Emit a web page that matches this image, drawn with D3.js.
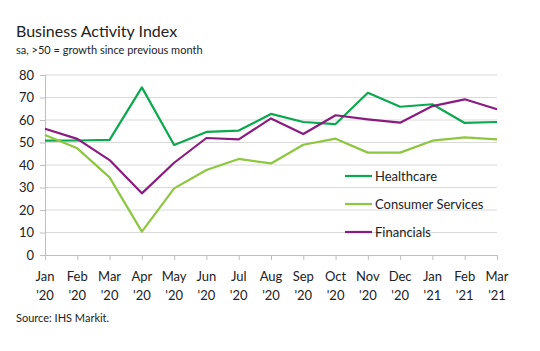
<!DOCTYPE html>
<html>
<head>
<meta charset="utf-8">
<script src="https://cdn.jsdelivr.net/npm/d3@7"></script>
<style>
  html, body { margin: 0; padding: 0; background: #fff; }
  svg { display: block; font-family: Lato, "Noto Sans", sans-serif; }
</style>
</head>
<body>
<div id="chart"></div>
<script>
const months = ["Jan", "Feb", "Mar", "Apr", "May", "Jun", "Jul", "Aug", "Sep", "Oct", "Nov", "Dec", "Jan", "Feb", "Mar"];
const years = ["'20", "'20", "'20", "'20", "'20", "'20", "'20", "'20", "'20", "'20", "'20", "'20", "'21", "'21", "'21"];
const healthcare = [50.8, 50.9, 51.2, 74.5, 48.9, 54.7, 55.3, 62.7, 59.1, 58.2, 72.1, 65.9, 67.0, 58.7, 59.1];
const consumerServices = [53.3, 47.4, 34.5, 10.4, 29.6, 37.8, 42.7, 40.7, 49.0, 51.7, 45.5, 45.5, 50.8, 52.3, 51.4];
const financials = [56.1, 51.6, 42.2, 27.4, 41.0, 52.0, 51.4, 60.7, 53.8, 62.1, 60.3, 58.8, 66.2, 69.2, 64.8];
const yTicks = [0, 10, 20, 30, 40, 50, 60, 70, 80];

const series = [
    { name: "Healthcare", values: healthcare, color: "#0ba84f" },
    { name: "Consumer Services", values: consumerServices, color: "#8dc63f" },
    { name: "Financials", values: financials, color: "#8a1b80" }
];

const width = 540, height = 351;
const margin = { top: 75, right: 43, bottom: 96, left: 45 };
const innerWidth = width - margin.left - margin.right;
const innerHeight = height - margin.top - margin.bottom;

const svg = d3.select("#chart").append("svg")
    .attr("width", width)
    .attr("height", height)
    .attr("viewBox", `0 0 ${width} ${height}`);

// Judul
svg.append("text")
    .attr("x", 16).attr("y", 37)
    .attr("font-size", "16px")
    .attr("fill", "#222")
    .text("Business Activity Index");

svg.append("text")
    .attr("x", 16).attr("y", 54)
    .attr("font-size", "11px")
    .attr("fill", "#222")
    .text("sa, >50 = growth since previous month");

// Skala pakai koordinat absolut
const x = d3.scalePoint()
    .domain(d3.range(months.length))
    .range([margin.left, width - margin.right]);

const y = d3.scaleLinear()
    .domain([0, 80])
    .range([height - margin.bottom, margin.top]);

// Grid horizontal
svg.append("g")
    .selectAll("line")
    .data(yTicks.filter(d => d > 0))
    .join("line")
    .attr("x1", margin.left).attr("x2", width - margin.right)
    .attr("y1", d => y(d)).attr("y2", d => y(d))
    .attr("stroke", "#d9d9d9")
    .attr("stroke-width", 1);

// Axis Y (tanpa label, label dibuat terpisah)
svg.append("g")
    .attr("transform", `translate(${margin.left},0)`)
    .call(d3.axisLeft(y).tickValues(yTicks).tickSize(5).tickFormat(""));

// Axis X
svg.append("g")
    .attr("transform", `translate(0,${height - margin.bottom})`)
    .call(d3.axisBottom(x).tickSize(5).tickFormat(""));

svg.selectAll(".domain, .tick line")
    .attr("stroke", "#bfbfbf");

svg.selectAll(".ylabel")
    .data(yTicks)
    .join("text")
    .attr("class", "ylabel")
    .attr("x", margin.left - 11)
    .attr("y", d => y(d) + 4.5)
    .attr("text-anchor", "end")
    .attr("font-size", "13px")
    .attr("fill", "#222")
    .text(d => d);

// Label bulan dua baris
svg.selectAll(".month")
    .data(months)
    .join("text")
    .attr("class", "month")
    .attr("x", (d, i) => x(i))
    .attr("y", height - margin.bottom + 26)
    .attr("text-anchor", "middle")
    .attr("font-size", "13px")
    .attr("fill", "#222")
    .text(d => d);

svg.selectAll(".year")
    .data(years)
    .join("text")
    .attr("class", "year")
    .attr("x", (d, i) => x(i))
    .attr("y", height - margin.bottom + 45)
    .attr("text-anchor", "middle")
    .attr("font-size", "13px")
    .attr("fill", "#222")
    .text(d => d);

// Garis
const line = d3.line()
    .x((d, i) => x(i))
    .y(d => y(d));

svg.selectAll(".series")
    .data(series)
    .join("path")
    .attr("class", "series")
    .attr("fill", "none")
    .attr("stroke", d => d.color)
    .attr("stroke-width", 2.2)
    .attr("stroke-linejoin", "round")
    .attr("d", d => line(d.values));

// Legend
const legend = svg.append("g")
    .attr("transform", "translate(345,176)");

const items = legend.selectAll("g")
    .data(series)
    .join("g")
    .attr("transform", (d, i) => `translate(0,${i * 28})`);

items.append("line")
    .attr("x1", 0).attr("x2", 27)
    .attr("y1", 0).attr("y2", 0)
    .attr("stroke", d => d.color)
    .attr("stroke-width", 2.2);

items.append("text")
    .attr("x", 30).attr("y", 5)
    .attr("font-size", "13px")
    .attr("fill", "#222")
    .text(d => d.name);

// Sumber
svg.append("text")
    .attr("x", 16).attr("y", 322)
    .attr("font-size", "11px")
    .attr("fill", "#222")
    .text("Source: IHS Markit.");
</script>
</body>
</html>
